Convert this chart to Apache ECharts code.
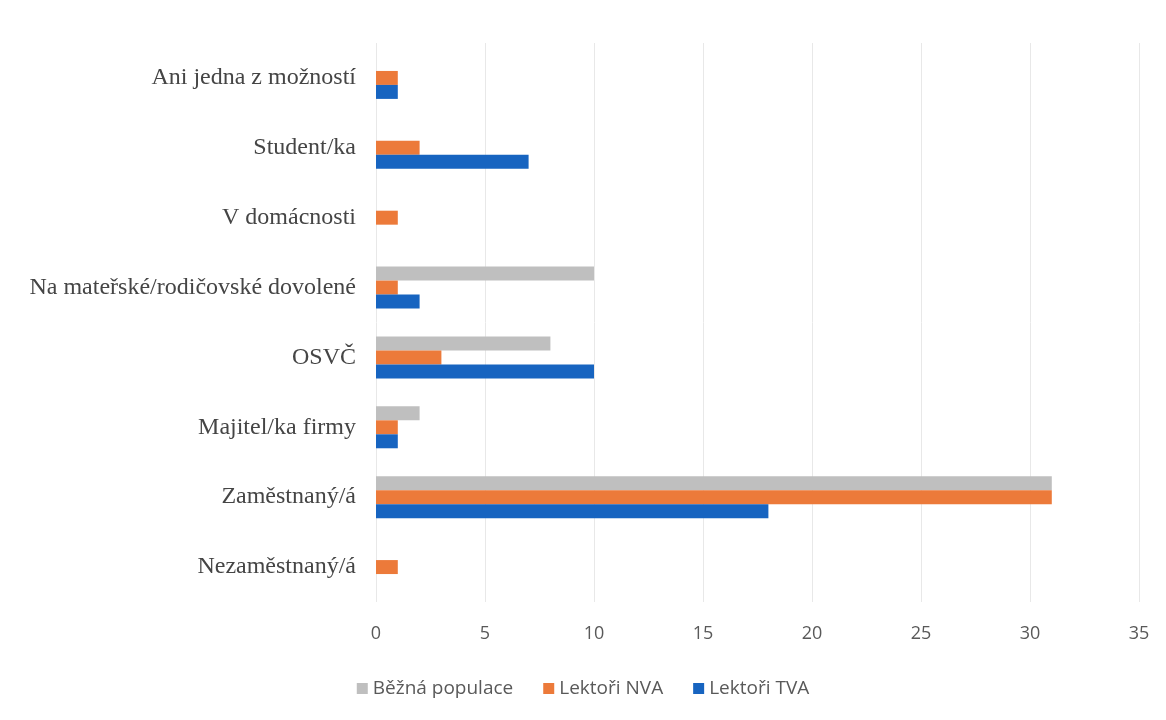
<!DOCTYPE html>
<html>
<head>
<meta charset="utf-8">
<script src="https://cdn.jsdelivr.net/npm/echarts@6/dist/echarts.min.js"></script>
<style>
  html, body { margin: 0; padding: 0; background: #fff; }
  #chart { width: 1166px; height: 720px; }
</style>
</head>
<body>
<div id="chart"></div>
<script>
// categories, bottom to top
const categories = [
  'Nezaměstnaný/á',
  'Zaměstnaný/á',
  'Majitel/ka firmy',
  'OSVČ',
  'Na mateřské/rodičovské dovolené',
  'V domácnosti',
  'Student/ka',
  'Ani jedna z možností'
]
const seriesNames = ['Běžná populace', 'Lektoři NVA', 'Lektoři TVA']
const bezna = [0, 31, 2, 8, 10, 0, 0, 0]
const nva = [1, 31, 1, 3, 1, 1, 2, 1]
const tva = [0, 18, 1, 10, 2, 0, 7, 1]
const xTicks = [0, 5, 10, 15, 20, 25, 30, 35]

const colors = ['#bfbfbf', '#ec7a3a', '#1764c0']

const chart = echarts.init(document.getElementById('chart'))

chart.setOption({
  animation: false,
  grid: {
    left: 376,
    right: 27,
    top: 43,
    bottom: 118
  },
  legend: {
    data: seriesNames,
    bottom: 17,
    left: 'center',
    itemWidth: 11,
    itemHeight: 11,
    itemGap: 30,
    icon: 'rect',
    textStyle: {
      fontFamily: 'Open Sans',
      fontSize: 19,
      color: '#595959'
    }
  },
  xAxis: {
    type: 'value',
    min: xTicks[0],
    max: xTicks[xTicks.length - 1],
    interval: 5,
    axisLine: { show: false },
    axisTick: { show: false },
    axisLabel: {
      margin: 23,
      fontFamily: 'Open Sans',
      fontSize: 18,
      color: '#595959'
    },
    splitLine: {
      lineStyle: { color: '#e8e8e8', width: 1 }
    }
  },
  yAxis: {
    type: 'category',
    data: categories,
    axisLine: { show: false },
    axisTick: { show: false },
    axisLabel: {
      margin: 20,
      fontFamily: 'Liberation Serif',
      fontSize: 24,
      color: '#454545'
    }
  },
  series: [
    { name: seriesNames[0], type: 'bar', data: bezna, itemStyle: { color: colors[0] }, barGap: '0%', barCategoryGap: '40%' },
    { name: seriesNames[1], type: 'bar', data: nva, itemStyle: { color: colors[1] } },
    { name: seriesNames[2], type: 'bar', data: tva, itemStyle: { color: colors[2] } }
  ]
})
</script>
</body>
</html>
